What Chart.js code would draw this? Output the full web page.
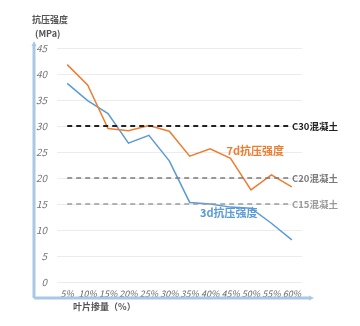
<!DOCTYPE html>
<html>
<head>
<meta charset="utf-8">
<script src="https://cdn.jsdelivr.net/npm/chart.js@4/dist/chart.umd.min.js"></script>
<style>
  html, body { margin: 0; padding: 0; background: #fff; }
  #wrap { width: 360px; height: 326px; }
</style>
</head>
<body>
<div id="wrap"><canvas id="c" width="360" height="326"></canvas></div>
<script>
const dosage = ['5%', '10%', '15%', '20%', '25%', '30%', '35%', '40%', '45%', '50%', '55%', '60%'];
const strength7d = [41.8, 37.9, 29.5, 29.1, 30.1, 29.0, 24.2, 25.6, 23.8, 17.7, 20.6, 18.3];
const strength3d = [38.2, 34.9, 32.4, 26.7, 28.2, 23.3, 15.3, 15.0, 14.4, 14.2, 11.3, 8.1];
const gradeNames = ['C30混凝土', 'C20混凝土', 'C15混凝土'];
const gradeValues = [30, 20, 15];
const yTicks = [0, 5, 10, 15, 20, 25, 30, 35, 40, 45];

const FONT = '"Microsoft YaHei", "Noto Sans CJK SC", sans-serif';
const ORANGE = '#ED7D31';
const BLUE = '#5B9BD5';
const AXIS = '#A9C8E8';
const gradeColors = ['#222222', '#7a7a7a', '#9a9a9a'];

function flat(v) { return dosage.map(() => v); }

// axis arrows, axis titles and the in-chart labels
const decorPlugin = {
    id: 'decor',
    afterDraw(chart) {
        const ctx = chart.ctx;
        const y = chart.scales.y;
        const x = chart.scales.x;
        const ax = 34, ay = 298;

        ctx.save();
        ctx.strokeStyle = AXIS;
        ctx.fillStyle = AXIS;
        ctx.lineWidth = 3;
        ctx.beginPath();
        ctx.moveTo(ax, ay);
        ctx.lineTo(ax, 45);
        ctx.moveTo(ax, ay);
        ctx.lineTo(310, ay);
        ctx.stroke();
        ctx.beginPath();
        ctx.moveTo(ax - 2.5, 46);
        ctx.lineTo(ax, 41);
        ctx.lineTo(ax + 2.5, 46);
        ctx.fill();
        ctx.beginPath();
        ctx.moveTo(309, ay - 2.5);
        ctx.lineTo(314, ay);
        ctx.lineTo(309, ay + 2.5);
        ctx.fill();

        ctx.fillStyle = '#555';
        ctx.font = 'bold 9px ' + FONT;
        ctx.textAlign = 'left';
        ctx.textBaseline = 'middle';
        ctx.fillText('抗压强度', 32, 20);
        ctx.fillText('(MPa)', 35, 34);
        ctx.fillText('叶片掺量（%）', 73, 307);

        ctx.font = 'bold 9.5px ' + FONT;
        gradeValues.forEach((v, i) => {
            ctx.fillStyle = gradeColors[i];
            ctx.fillText(gradeNames[i], 292, y.getPixelForValue(v));
        });

        ctx.font = 'bold 11px ' + FONT;
        ctx.fillStyle = ORANGE;
        ctx.fillText('7d抗压强度', x.getPixelForValue(7.8), y.getPixelForValue(25.2));
        ctx.fillStyle = BLUE;
        ctx.fillText('3d抗压强度', x.getPixelForValue(6.5), y.getPixelForValue(13.3));
        ctx.restore();
    }
};

const gradeSets = gradeValues.map((v, i) => ({
    label: gradeNames[i],
    data: flat(v),
    borderColor: gradeColors[i],
    borderWidth: i === 0 ? 1.8 : 1.4,
    borderDash: [5, 4],
    pointRadius: 0,
    tension: 0
}));

new Chart(document.getElementById('c').getContext('2d'), {
    type: 'line',
    data: {
        labels: dosage,
        datasets: [
            ...gradeSets,
            { label: '7d抗压强度', data: strength7d, borderColor: ORANGE, borderWidth: 1.5, pointRadius: 0, tension: 0 },
            { label: '3d抗压强度', data: strength3d, borderColor: BLUE, borderWidth: 1.5, pointRadius: 0, tension: 0 }
        ]
    },
    options: {
        responsive: false,
        animation: false,
        layout: { padding: { top: 48, right: 58, left: 0, bottom: 0 } },
        plugins: { legend: { display: false }, tooltip: { enabled: false } },
        scales: {
            x: {
                offset: true,
                grid: { display: false, drawTicks: false },
                border: { display: false },
                ticks: {
                    color: '#666',
                    font: { family: FONT, size: 9, style: 'italic' },
                    padding: 6,
                    maxRotation: 0,
                    autoSkip: false
                },
                afterFit(s) { s.height = 44; }
            },
            y: {
                min: 0,
                max: 45,
                afterBuildTicks(s) { s.ticks = yTicks.map(v => ({ value: v })); },
                grid: { color: '#ececec', drawTicks: false, lineWidth: 1 },
                border: { display: false },
                ticks: {
                    color: '#777',
                    font: { family: FONT, size: 10, style: 'italic' },
                    padding: 10
                },
                afterFit(s) { s.width = 57; }
            }
        }
    },
    plugins: [decorPlugin]
});
</script>
</body>
</html>
